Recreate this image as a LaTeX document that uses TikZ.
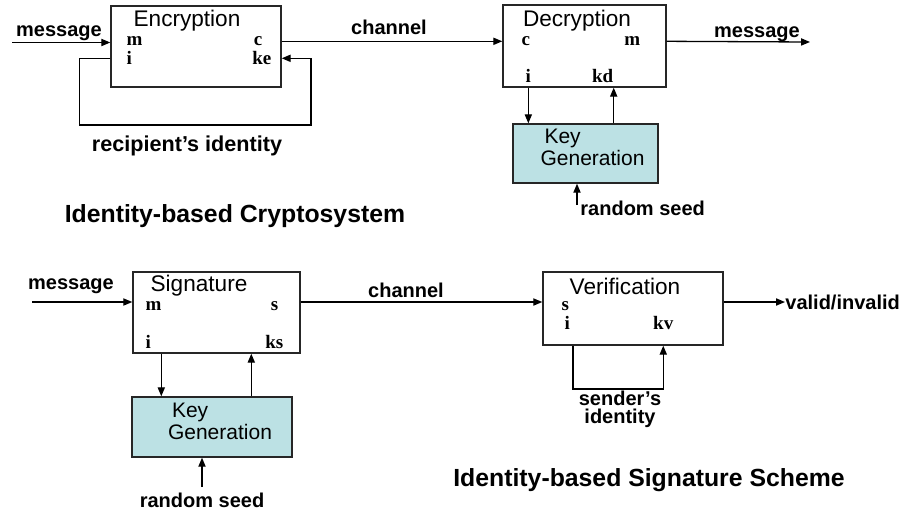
\documentclass[tikz,border=0pt]{standalone}
\usepackage{fontspec}
\setmainfont{Liberation Sans}
\newfontfamily\portfont{Liberation Serif}
\usetikzlibrary{calc}
\usetikzlibrary{positioning}
\usetikzlibrary{arrows.meta}
\definecolor{keyblue}{RGB}{188,225,228}
\tikzstyle{block} = [draw=black!85, line width=0.7pt, inner sep=0pt]
\tikzstyle{keyblock} = [block, fill=keyblue]
\tikzstyle{blocktitle} = [inner sep=0pt, font=\fontsize{11.3}{13}\selectfont]
\tikzstyle{keytext} = [inner sep=0pt, align=left, font=\fontsize{10.5}{9.5}\selectfont]
\tikzstyle{port} = [inner sep=0pt, font=\portfont\fontsize{9.5}{11}\selectfont\bfseries]
\tikzstyle{edgelabel} = [inner sep=0pt, font=\fontsize{10}{9}\selectfont\bfseries]
\tikzstyle{schemetitle} = [inner sep=0pt, font=\fontsize{12.4}{14}\selectfont\bfseries]
\tikzstyle{flow} = [line width=0.65pt, -{Triangle[length=4.5pt,width=3.6pt]}]
\tikzstyle{wire} = [line width=0.65pt]

\begin{document}
\begin{tikzpicture}[x=0.5pt, y=-0.5pt]
    \useasboundingbox (0,0) rectangle (908,509);

    % identity-based cryptosystem
    \node[block, minimum width=85pt, minimum height=40.5pt] (enc) at (196,46.5) {};
    \node[blocktitle] (enc_title) at ($(enc.north)+(-9,15)$) {Encryption};
    \node[port, anchor=west] (enc_m) at ($(enc.north west)+(16,36)$) {m};
    \node[port, anchor=west] (enc_i) at ($(enc.north west)+(16,53)$) {i};
    \node[port, anchor=east] (enc_c) at ($(enc.north east)+(-19,36)$) {c};
    \node[port, anchor=east] (enc_ke) at ($(enc.north east)+(-10,53)$) {ke};

    \node[block, minimum width=81.5pt, minimum height=41pt] (dec) at (584.5,46) {};
    \node[blocktitle] (dec_title) at ($(dec.north)+(-7.5,16)$) {Decryption};
    \node[port, anchor=west] (dec_c) at ($(dec.north west)+(19,37)$) {c};
    \node[port, anchor=west] (dec_i) at ($(dec.north west)+(23,72)$) {i};
    \node[port, anchor=east] (dec_m) at ($(dec.north east)+(-26,37)$) {m};
    \node[port, anchor=east] (dec_kd) at ($(dec.north east)+(-53,72)$) {kd};

    \node[keyblock, minimum width=72.5pt, minimum height=29.5pt] (kg1) at (585.5,153.5) {};
    \node[keytext] (kg1_text) at ($(kg1.center)+(7,-6)$) {\hspace{2pt}Key\\Generation};

    \coordinate (msg_in) at (12,42.5);
    \draw[flow] (msg_in) -- (msg_in -| enc.west);
    \node[edgelabel] (msg_in_label) at ($(msg_in)+(47,-9)$) {message};

    \draw[flow] (enc.east |- enc_c) -- (dec.west |- dec_c);
    \node[edgelabel] (chan1_label) at (389,27) {channel};

    \coordinate (msg_out) at (810,42);
    \draw[flow] (dec.east |- dec_m) -- (msg_out);
    \node[edgelabel] (msg_out_label) at (757,34) {message};

    \coordinate (enc_loop) at (311,125);
    \draw[flow] (enc.west |- enc_i) -- ++(-31,0) |- (enc_loop) |- (enc.east |- enc_ke);
    \node[edgelabel, font=\fontsize{10.8}{12}\selectfont\bfseries] (enc_loop_label) at ($(enc.south)+(-9,58)$) {recipient's identity};

    \draw[flow] (dec_i |- dec.south) -- (dec_i |- kg1.north);
    \draw[flow] (dec_kd.east |- kg1.north) -- (dec_kd.east |- dec.south);

    \coordinate (seed1) at (577,205);
    \draw[flow] (seed1) -- (seed1 |- kg1.south);
    \node[edgelabel, anchor=west] (seed1_label) at ($(seed1)+(3,3)$) {random seed};

    \node[schemetitle] (crypto_title) at (235,216) {Identity-based Cryptosystem};

    % identity-based signature scheme
    \node[block, minimum width=83.5pt, minimum height=40.5pt] (sig) at (216.5,312.5) {};
    \node[blocktitle] (sig_title) at ($(sig.north)+(-17.5,14)$) {Signature};
    \node[port, anchor=west] (sig_m) at ($(sig.north west)+(13,35)$) {m};
    \node[port, anchor=west] (sig_i) at ($(sig.north west)+(13,71)$) {i};
    \node[port, anchor=east] (sig_s) at ($(sig.north east)+(-22,35)$) {s};
    \node[port, anchor=east] (sig_ks) at ($(sig.north east)+(-17,71)$) {ks};

    \node[block, minimum width=90pt, minimum height=36.5pt] (ver) at (633,308.5) {};
    \node[blocktitle] (ver_title) at ($(ver.north)+(-8,15)$) {Verification};
    \node[port, anchor=west] (ver_s) at ($(ver.north west)+(19,35)$) {s};
    \node[port, anchor=west] (ver_i) at ($(ver.north west)+(22,52)$) {i};
    \node[port, anchor=east] (ver_kv) at ($(ver.north east)+(-50,52)$) {kv};

    \node[keyblock, minimum width=80pt, minimum height=30pt] (kg2) at (212,427) {};
    \node[keytext] (kg2_text) at ($(kg2.center)+(8,-5.5)$) {\hspace{2pt}Key\\Generation};

    \coordinate (sig_in) at (32,302);
    \draw[flow] (sig_in) -- (sig_in -| sig.west);
    \node[edgelabel] (sig_in_label) at (71,286) {message};

    \draw[flow] (sig.east |- sig_in) -- (ver.west |- sig_in);
    \node[edgelabel] (chan2_label) at (406,290) {channel};

    \node[edgelabel, anchor=west] (verdict) at (785,302) {valid/invalid};
    \draw[flow] (ver.east |- verdict) -- (verdict.west);

    \coordinate (sig_down) at ($(sig.south west)+(29,0)$);
    \coordinate (sig_up) at ($(sig.south west)+(119,0)$);
    \draw[flow] (sig_down) -- (sig_down |- kg2.north);
    \draw[flow] (sig_up |- kg2.north) -- (sig_up);

    \coordinate (seed2) at (202,487);
    \draw[flow] (seed2) -- (seed2 |- kg2.south);
    \node[edgelabel] (seed2_label) at ($(seed2)+(0,13)$) {random seed};

    \coordinate (ver_loop) at (573,389);
    \draw[flow] (ver_loop |- ver.south) |- (ver_kv |- ver_loop) -- (ver_kv |- ver.south);
    \node[edgelabel, align=center] (ver_loop_label) at ($(ver_loop)+(47,20)$) {sender's\\identity};

    \node[schemetitle] (sign_title) at (649,480) {Identity-based Signature Scheme};
\end{tikzpicture}
\end{document}
